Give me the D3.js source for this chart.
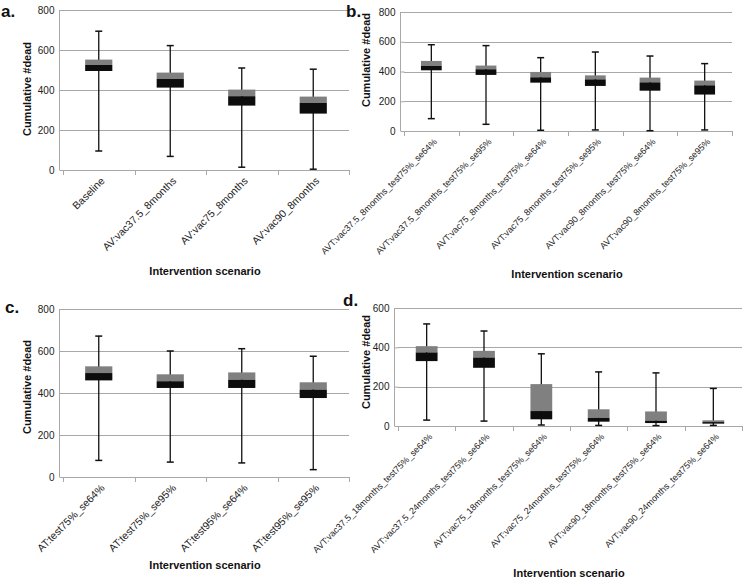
<!DOCTYPE html>
<html><head><meta charset="utf-8">
<script src="https://cdn.jsdelivr.net/npm/d3@7"></script>
<style>
body{margin:0;background:#fff;}
svg{display:block;font-family:"Liberation Sans",Arial,sans-serif;}
</style></head><body>
<svg id="chart" width="745" height="579"></svg>
<script>
// Panel a
const catsA = ["Baseline","AV:vac37.5_8months","AV:vac75_8months","AV:vac90_8months"];
const minA = [95,68,14,4];
const q1A  = [495,412,322,282];
const medA = [525,455,369,335];
const q3A  = [552,487,402,367];
const maxA = [694,622,510,504];
const ticksA = [0,200,400,600,800];

// Panel b
const catsB = ["AVT:vac37.5_8months_test75%_se64%","AVT:vac37.5_8months_test75%_se95%","AVT:vac75_8months_test75%_se64%","AVT:vac75_8months_test75%_se95%","AVT:vac90_8months_test75%_se64%","AVT:vac90_8months_test75%_se95%"];
const minB = [83,45,5,7,2,7];
const q1B  = [408,377,325,303,271,245];
const medB = [437,415,361,347,327,307];
const q3B  = [471,440,397,374,359,339];
const maxB = [580,574,493,531,504,453];
const ticksB = [0,200,400,600,800];

// Panel c
const catsC = ["AT:test75%_se64%","AT:test75%_se95%","AT:test95%_se64%","AT:test95%_se95%"];
const minC = [79,71,67,35];
const q1C  = [460,424,424,376];
const medC = [495,456,463,416];
const q3C  = [527,489,498,451];
const maxC = [671,600,611,575];
const ticksC = [0,200,400,600,800];

// Panel d
const catsD = ["AVT:vac37.5_18months_test75%_se64%","AVT:vac37.5_24months_test75%_se64%","AVT:vac75_18months_test75%_se64%","AVT:vac75_24months_test75%_se64%","AVT:vac90_18months_test75%_se64%","AVT:vac90_24months_test75%_se64%"];
const minD = [30,25,5,3,2,3];
const q1D  = [330,296,34,22,15,12];
const medD = [374,348,76,41,27,20];
const q3D  = [406,382,213,85,74,29];
const maxD = [519,483,367,275,270,191];
const ticksD = [0,200,400,600];

const svg = d3.select("#chart");
const GRID = "#a8a8a8";

function panel(o){
  const g = svg.append("g");
  const x = d3.scaleBand().domain(o.cats).range([o.x0,o.x1]).padding(0);
  const y = d3.scaleLinear().domain([0,o.ymax]).range([o.yb,o.yt]);
  // gridlines
  g.selectAll(".grid").data(o.ticks.slice(1)).enter().append("line")
    .attr("x1",o.x0).attr("x2",o.x1).attr("y1",d=>Math.round(y(d))+0.5).attr("y2",d=>Math.round(y(d))+0.5)
    .attr("stroke",GRID).attr("stroke-width",1.2);
  // y axis
  const ya = d3.axisLeft(y).tickValues(o.ticks).tickSize(4).tickPadding(5).tickFormat(d3.format("d"));
  const yg = g.append("g").attr("transform",`translate(${o.x0+0.5},0)`).call(ya);
  yg.select(".domain").attr("stroke",GRID).attr("d",`M-4,${o.yb}V${o.yt}`);
  yg.selectAll(".tick line").attr("stroke",GRID);
  yg.selectAll(".tick text").attr("font-size",10).attr("fill","#222").attr("font-family","Liberation Sans, Arial, sans-serif");
  // x axis baseline & boundary ticks
  g.append("line").attr("x1",o.x0).attr("x2",o.x1).attr("y1",Math.round(o.yb)+0.5).attr("y2",Math.round(o.yb)+0.5).attr("stroke",GRID).attr("stroke-width",1.2);
  const bounds = o.cats.map(c=>x(c)).concat([o.x1]);
  g.selectAll(".bt").data(bounds).enter().append("line")
    .attr("x1",d=>Math.round(d)+0.5).attr("x2",d=>Math.round(d)+0.5)
    .attr("y1",o.yb).attr("y2",o.yb+5).attr("stroke",GRID);
  // x labels
  g.selectAll(".xl").data(o.cats).enter().append("text")
    .attr("transform",c=>`translate(${x(c)+x.bandwidth()/2+4},${o.yb+9}) rotate(-45)`)
    .attr("text-anchor","end").attr("dy","0.35em")
    .attr("font-size",o.lfs).attr("fill","#222").text(c=>c);
  // boxes
  const bw = x.bandwidth()*0.38;
  o.cats.forEach((c,i)=>{
    const cx = x(c)+x.bandwidth()/2;
    g.append("line").attr("x1",cx).attr("x2",cx).attr("y1",y(o.mn[i])).attr("y2",y(o.mx[i])).attr("stroke","#111").attr("stroke-width",1.3);
    g.append("line").attr("x1",cx-3.5).attr("x2",cx+3.5).attr("y1",y(o.mx[i])).attr("y2",y(o.mx[i])).attr("stroke","#111").attr("stroke-width",1.5);
    g.append("line").attr("x1",cx-3.5).attr("x2",cx+3.5).attr("y1",y(o.mn[i])).attr("y2",y(o.mn[i])).attr("stroke","#111").attr("stroke-width",1.5);
    g.append("rect").attr("x",cx-bw/2).attr("width",bw).attr("y",y(o.q3[i])).attr("height",y(o.md[i])-y(o.q3[i])).attr("fill","#808080");
    g.append("rect").attr("x",cx-bw/2).attr("width",bw).attr("y",y(o.md[i])).attr("height",y(o.q1[i])-y(o.md[i])).attr("fill","#0d0d0d");
  });
  // y title
  g.append("text").attr("transform",`translate(${o.ytx},${o.yty}) rotate(-90)`).attr("text-anchor","middle")
    .attr("font-size",11).attr("font-weight","bold").attr("fill","#111").text("Cumulative #dead");
  // x title
  g.append("text").attr("x",o.xtx).attr("y",o.xty).attr("text-anchor","middle")
    .attr("font-size",11).attr("font-weight","bold").attr("fill","#111").text("Intervention scenario");
  // panel letter
  g.append("text").attr("x",o.lx).attr("y",o.ly).attr("font-size",17).attr("font-weight","bold").attr("fill","#111").text(o.letter);
}

panel({cats:catsA,mn:minA,q1:q1A,md:medA,q3:q3A,mx:maxA,ticks:ticksA,ymax:800,
  x0:63,x1:349,yt:10,yb:170,lfs:10.5,ytx:31,yty:89,xtx:205,xty:275,letter:"a.",lx:1,ly:17});
panel({cats:catsB,mn:minB,q1:q1B,md:medB,q3:q3B,mx:maxB,ticks:ticksB,ymax:800,
  x0:404,x1:732,yt:12,yb:131,lfs:9,ytx:370,yty:60,xtx:567,xty:278,letter:"b.",lx:346,ly:17});
panel({cats:catsC,mn:minC,q1:q1C,md:medC,q3:q3C,mx:maxC,ticks:ticksC,ymax:800,
  x0:63,x1:349,yt:309,yb:477,lfs:10.5,ytx:31,yty:387,xtx:205,xty:569,letter:"c.",lx:5,ly:313});
panel({cats:catsD,mn:minD,q1:q1D,md:medD,q3:q3D,mx:maxD,ticks:ticksD,ymax:600,
  x0:398,x1:742,yt:308,yb:426,lfs:9,ytx:370,yty:362,xtx:569,xty:577,letter:"d.",lx:343,ly:306});
</script>
</body></html>
